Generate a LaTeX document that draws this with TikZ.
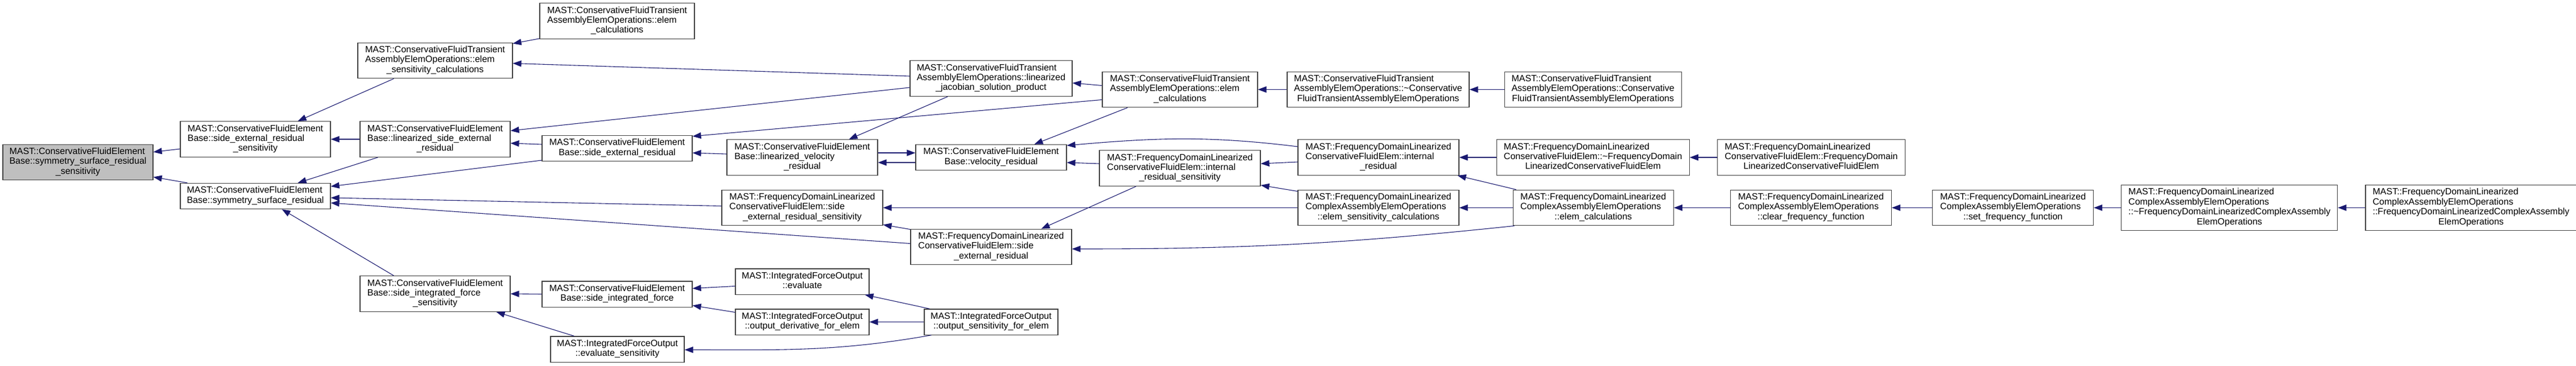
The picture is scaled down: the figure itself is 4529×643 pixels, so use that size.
\documentclass[tikz,border=0pt]{standalone}
\usepackage{fontspec}
\setmainfont{Liberation Sans}
\usepackage{tikz}
\usetikzlibrary{arrows.meta,positioning}

\definecolor{edgeblue}{HTML}{191970}
\definecolor{rootgray}{HTML}{BFBFBF}
\definecolor{boxline}{HTML}{404040}
\newcommand{\fnlines}[2]{\begin{tabular}{@{}l@{}}#1\\\multicolumn{1}{@{}c@{}}{#2}\end{tabular}}

\begin{document}
\begin{tikzpicture}[
  x=1pt, y=-1pt,
  font=\fontsize{16}{17.4}\selectfont,
  fn/.style={draw=boxline, line width=1.2pt, fill=white, inner xsep=2pt, inner ysep=5.2pt},
  fnroot/.style={fn, fill=rootgray},
  arr/.style={-{Triangle[length=15pt,width=11pt]}, draw=edgeblue, line width=1.1pt}
]
\useasboundingbox (0,0) rectangle (4529,643);

% Function being documented
\node[fnroot, minimum width=264pt] (symres) at (137,285.5) {\fnlines{MAST::ConservativeFluidElement\\Base::symmetry\_surface\_residual}{\_sensitivity}};

% Callers, first two levels
\node[fn, minimum width=264pt] (sideextsens) at (449,245) {\fnlines{MAST::ConservativeFluidElement\\Base::side\_external\_residual}{\_sensitivity}};
\node[fn, minimum width=264pt] (symsurf) at (449,345) {\fnlines{MAST::ConservativeFluidElement}{Base::symmetry\_surface\_residual}};
\node[fn, minimum width=272pt] (elemsens) at (765,106.5) {\fnlines{MAST::ConservativeFluidTransient\\AssemblyElemOperations::elem}{\_sensitivity\_calculations}};
\node[fn, minimum width=264pt] (linsideext) at (765,245) {\fnlines{MAST::ConservativeFluidElement\\Base::linearized\_side\_external}{\_residual}};
\node[fn, minimum width=264pt] (sideforcesens) at (765,517) {\fnlines{MAST::ConservativeFluidElement\\Base::side\_integrated\_force}{\_sensitivity}};

% Third and fourth levels
\node[fn, minimum width=272pt] (trcalc) at (1085,37) {\fnlines{MAST::ConservativeFluidTransient\\AssemblyElemOperations::elem}{\_calculations}};
\node[fn, minimum width=264pt] (sideext) at (1085,261) {\fnlines{MAST::ConservativeFluidElement}{Base::side\_external\_residual}};
\node[fn, minimum width=264pt] (sideforce) at (1085,517.5) {\fnlines{MAST::ConservativeFluidElement}{Base::side\_integrated\_force}};
\node[fn, minimum width=235pt] (evalsens) at (1085.5,614.5) {\fnlines{MAST::IntegratedForceOutput}{::evaluate\_sensitivity}};
\node[fn, minimum width=265pt] (linvel) at (1410.5,277) {\fnlines{MAST::ConservativeFluidElement\\Base::linearized\_velocity}{\_residual}};
\node[fn, minimum width=283pt] (fdsideextsens) at (1410.5,365.5) {\fnlines{MAST::FrequencyDomainLinearized\\ConservativeFluidElem::side}{\_external\_residual\_sensitivity}};
\node[fn, minimum width=235pt] (evaluate) at (1410.5,495.5) {\fnlines{MAST::IntegratedForceOutput}{::evaluate}};
\node[fn, minimum width=235pt] (outderiv) at (1410.5,566.5) {\fnlines{MAST::IntegratedForceOutput}{::output\_derivative\_for\_elem}};

% Fifth and sixth levels
\node[fn, minimum width=285pt] (linjac) at (1742.5,138) {\fnlines{MAST::ConservativeFluidTransient\\AssemblyElemOperations::linearized}{\_jacobian\_solution\_product}};
\node[fn, minimum width=265pt] (velres) at (1742.5,277) {\fnlines{MAST::ConservativeFluidElement}{Base::velocity\_residual}};
\node[fn, minimum width=283pt] (fdsideext) at (1742.5,434.5) {\fnlines{MAST::FrequencyDomainLinearized\\ConservativeFluidElem::side}{\_external\_residual}};
\node[fn, minimum width=235pt] (outsens) at (1742.5,566.5) {\fnlines{MAST::IntegratedForceOutput}{::output\_sensitivity\_for\_elem}};
\node[fn, minimum width=273pt] (trcalcb) at (2074.5,157.5) {\fnlines{MAST::ConservativeFluidTransient\\AssemblyElemOperations::elem}{\_calculations}};
\node[fn, minimum width=283pt] (fdintsens) at (2074.5,296) {\fnlines{MAST::FrequencyDomainLinearized\\ConservativeFluidElem::internal}{\_residual\_sensitivity}};

% Seventh level
\node[fn, minimum width=320pt] (trdtor) at (2423,157.5) {\fnlines{MAST::ConservativeFluidTransient\\AssemblyElemOperations::\textasciitilde Conservative}{FluidTransientAssemblyElemOperations}};
\node[fn, minimum width=283pt] (fdint) at (2423.5,277) {\fnlines{MAST::FrequencyDomainLinearized\\ConservativeFluidElem::internal}{\_residual}};
\node[fn, minimum width=283pt] (fdelemsens) at (2423.5,365.5) {\fnlines{MAST::FrequencyDomainLinearized\\ComplexAssemblyElemOperations}{::elem\_sensitivity\_calculations}};

% Outer levels
\node[fn, minimum width=311pt, right=61pt of trdtor] (trctor) {\fnlines{MAST::ConservativeFluidTransient\\AssemblyElemOperations::Conservative}{FluidTransientAssemblyElemOperations}};
\node[fn, minimum width=339pt, right=65pt of fdint] (fddtor) {\fnlines{MAST::FrequencyDomainLinearized\\ConservativeFluidElem::\textasciitilde FrequencyDomain}{LinearizedConservativeFluidElem}};
\node[fn, minimum width=282pt, right=94pt of fdelemsens] (fdelem) {\fnlines{MAST::FrequencyDomainLinearized\\ComplexAssemblyElemOperations}{::elem\_calculations}};
\node[fn, minimum width=330pt, right=48pt of fddtor] (fdctor) {\fnlines{MAST::FrequencyDomainLinearized\\ConservativeFluidElem::FrequencyDomain}{LinearizedConservativeFluidElem}};
\node[fn, minimum width=283pt, right=99pt of fdelem] (clearfreq) {\fnlines{MAST::FrequencyDomainLinearized\\ComplexAssemblyElemOperations}{::clear\_frequency\_function}};
\node[fn, minimum width=283pt, right=71pt of clearfreq] (setfreq) {\fnlines{MAST::FrequencyDomainLinearized\\ComplexAssemblyElemOperations}{::set\_frequency\_function}};
\node[fn, minimum width=380pt, right=48pt of setfreq] (cadtor) {\fnlines{MAST::FrequencyDomainLinearized\\ComplexAssemblyElemOperations\\::\textasciitilde FrequencyDomainLinearizedComplexAssembly}{ElemOperations}};
\node[fn, minimum width=371pt, right=48pt of cadtor] (cactor) {\fnlines{MAST::FrequencyDomainLinearized\\ComplexAssemblyElemOperations\\::FrequencyDomainLinearizedComplexAssembly}{ElemOperations}};

% Calls into the first levels
\draw[arr] ([yshift=-17pt]sideextsens.west) -- ([yshift=18pt]symres.east);
\draw[arr] ([xshift=13pt]symsurf.north west) -- ([yshift=-26pt]symres.east);
\draw[arr] ([xshift=64pt]elemsens.south west) -- ([xshift=-58pt]sideextsens.north east);
\draw[arr] (linsideext.west) -- (sideextsens.east);
\draw[arr] ([xshift=32pt]linsideext.south west) -- ([xshift=-58pt]symsurf.north east);
\draw[arr] ([yshift=-21pt]sideext.west) -- ([yshift=17pt]symsurf.east);
\draw[arr] ([yshift=3pt]fdsideextsens.west) -- ([yshift=-3pt]symsurf.east);
\draw[arr] ([yshift=6pt]fdsideext.west) -- ([yshift=-12pt]symsurf.east);
\draw[arr] ([xshift=60pt]sideforcesens.north west) -- ([xshift=-86pt]symsurf.south east);

% Calls into the middle levels
\draw[arr] ([yshift=1pt]trcalc.south west) -- ([yshift=-2pt]elemsens.north east);
\draw[arr] ([yshift=4pt]linjac.west) -- ([yshift=-5pt]elemsens.east);
\draw[arr] ([yshift=-16pt]linjac.west) -- ([yshift=15pt]linsideext.east);
\draw[arr] ([yshift=7pt]sideext.west) -- ([yshift=-7pt]linsideext.east);
\draw[arr] ([xshift=67pt]linjac.south west) -- ([xshift=-51pt]linvel.north east);
\draw[arr] ([yshift=-18pt]trcalcb.west) -- ([yshift=-2pt]sideext.north east);
\draw[arr] ([yshift=6pt]linvel.west) -- ([yshift=-8pt]sideext.east);
\draw[arr] ([yshift=8pt]linvel.east) -- ([yshift=8pt]velres.west);
\draw[arr] ([yshift=-9pt]velres.west) -- ([yshift=-9pt]linvel.east);
\draw[arr] ([yshift=7pt]trcalcb.west) -- ([yshift=-8pt]linjac.east);
\draw[arr] ([xshift=45pt]trcalcb.south west) -- ([xshift=-57pt]velres.north east);
\draw[arr] ([yshift=19pt]fdint.west) to[out=173,in=5] ([yshift=21pt]velres.east);
\draw[arr] ([yshift=8pt]fdintsens.west) -- ([yshift=-9pt]velres.east);
\draw[arr] ([xshift=65pt]fdintsens.south west) -- ([xshift=-54pt]fdsideext.north east);
\draw[arr] ([xshift=3pt]fdelem.south west) to[out=186,in=0] ([yshift=-3.5pt]fdsideext.east);
\draw[arr] (fdelemsens.west) -- (fdsideextsens.east);
\draw[arr] ([yshift=-1pt]fdsideext.north west) -- ([yshift=2pt]fdsideextsens.south east);

% Force output branch
\draw[arr] (sideforce.west) -- (sideforcesens.east);
\draw[arr] ([xshift=42pt]evalsens.north west) -- ([xshift=-25pt]sideforcesens.south east);
\draw[arr] ([yshift=-8pt]evaluate.west) -- ([yshift=10pt]sideforce.east);
\draw[arr] ([yshift=17pt]outderiv.west) -- ([yshift=-20pt]sideforce.east);
\draw[arr] ([xshift=10pt]outsens.north west) -- ([xshift=-8pt]evaluate.south east);
\draw[arr] (outsens.west) -- (outderiv.east);
\draw[arr] ([xshift=13pt]outsens.south west) to[out=190,in=0] ([yshift=-1pt]evalsens.east);

% Calls into the outer levels
\draw[arr] (trdtor.west) -- (trcalcb.east);
\draw[arr] ([yshift=-8pt]fdint.west) -- ([yshift=8pt]fdintsens.east);
\draw[arr] ([yshift=-3pt]fdelemsens.north west) -- ([yshift=2pt]fdintsens.south east);
\draw[arr] (trctor.west) -- (trdtor.east);
\draw[arr] (fddtor.west) -- (fdint.east);
\draw[arr] ([xshift=6pt]fdelem.north west) -- ([xshift=-3pt]fdint.south east);
\draw[arr] (fdelem.west) -- (fdelemsens.east);
\draw[arr] (fdctor.west) -- (fddtor.east);
\draw[arr] (clearfreq.west) -- (fdelem.east);
\draw[arr] (setfreq.west) -- (clearfreq.east);
\draw[arr] (cadtor.west) -- (setfreq.east);
\draw[arr] (cactor.west) -- (cadtor.east);

\end{tikzpicture}
\end{document}
